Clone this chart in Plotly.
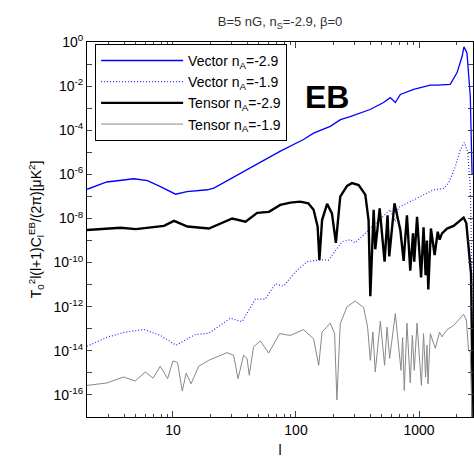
import plotly.graph_objects as go

# ---- data (l, value) ----
l_vec29 = [2, 2.9, 4.8, 6.2, 7.9, 10.5, 13, 19, 21.5, 40, 74, 115, 139, 190, 230, 276, 400, 515,
           584, 642, 705, 904, 1236, 1400, 1795, 2036, 2240, 2320, 2455, 2612, 2660, 2700]
v_vec29 = [2.1e-7, 4.5e-7, 6.3e-7, 5.2e-7, 2.8e-7, 1.26e-7, 1.66e-7, 2.0e-7, 2.4e-7, 1.6e-6, 1.1e-5,
           3.8e-5, 7.4e-5, 1.5e-4, 3.0e-4, 4.1e-4, 8.7e-4, 1.8e-3, 3.0e-3, 1.8e-3, 4.2e-3, 7.1e-3,
           1.1e-2, 1.1e-2, 1.2e-2, 4.0e-2, 0.22, 0.6, 0.32, 3.5e-3, 1.8e-5, 1e-6]

l_vec19 = [2, 2.9, 4.0, 5.8, 7.9, 10.6, 15.2, 19.5, 29.2, 36.4, 46.7, 56.3, 68, 79, 99, 123, 158,
           184, 237, 276, 303, 389, 485, 584, 642, 683, 904, 1314, 1585, 1742, 1972, 2166, 2335,
           2483, 2612, 2690, 2740]
v_vec19 = [1.6e-14, 4.1e-14, 6.8e-14, 9.3e-14, 5.0e-14, 1.8e-14, 5.5e-14, 6.2e-14, 3.0e-13, 2.1e-13,
           2.2e-12, 2.2e-12, 1.1e-11, 8.5e-12, 3.8e-11, 1.1e-10, 1.35e-10, 1.3e-10, 8.9e-10, 1.1e-9,
           7.9e-10, 3.0e-9, 1.0e-8, 2.5e-8, 7.2e-9, 3.2e-8, 6.9e-8, 2.0e-7, 2.3e-7, 4.0e-7, 2.2e-6,
           1.3e-5, 2.8e-5, 1.1e-5, 2.8e-7, 5e-11, 1e-18]

l_ten29 = [2, 3.75, 5, 8.45, 10.2, 13.1, 19.6, 30.3, 38.9, 48.4, 60.3, 74.5, 90, 108, 126, 139, 150,
           155, 163, 179, 196, 211, 229, 260, 285, 323, 366, 389, 402, 428, 441, 479, 525, 555, 573,
           632, 705, 750, 798, 849, 894, 915, 964, 1040, 1089, 1131, 1160, 1190, 1250, 1340, 1420,
           1470, 1538, 1690, 1911, 2306, 2426, 2532, 2650, 2700, 2740]
v_ten29 = [3.0e-9, 3.8e-9, 3.3e-9, 4.6e-9, 7.8e-9, 4.3e-9, 3.5e-9, 1.0e-8, 7.2e-9, 1.8e-8, 2.0e-8,
           4.1e-8, 5.2e-8, 5.8e-8, 4.9e-8, 2.5e-8, 4.3e-9, 1.3e-10, 8.5e-9, 4.6e-8, 1.7e-8, 7.9e-10,
           9.8e-8, 3.0e-7, 4.0e-7, 3.3e-7, 1.2e-7, 8.5e-9, 3.0e-12, 2.5e-8, 4.0e-10, 2.9e-8, 1.1e-10,
           1.4e-8, 1.9e-10, 4.9e-8, 3.0e-9, 1.2e-10, 1.4e-8, 4.3e-11, 2.1e-9, 1.1e-10, 1.2e-8,
           2.1e-11, 4.0e-9, 2.7e-11, 1.0e-9, 6.0e-12, 3.5e-9, 2.2e-10, 2.5e-9, 1.1e-9, 2.1e-9,
           3.5e-9, 4.6e-9, 1.1e-8, 6.0e-9, 5.2e-10, 3e-11, 1e-14, 1e-18]

l_ten19 = [2, 2.9, 3.96, 4.93, 5.95, 6.88, 7.89, 9.04, 10, 10.9, 11.9, 12.8, 14.0, 16.2, 19.5, 27.5,
           31.1, 33.8, 37.5, 40, 41.7, 45.2, 51.3, 59.9, 73.6, 90, 115, 139, 153, 163, 190, 206, 215,
           229, 260, 303, 355, 382, 402, 422, 441, 485, 525, 550, 577, 642, 714, 736, 759, 798, 849,
           883, 915, 964, 1046, 1089, 1131, 1161, 1183, 1236, 1357, 1470, 1538, 1690, 1911, 2306,
           2426, 2532, 2612, 2690, 2740]
v_ten19 = [2.7e-16, 3.5e-16, 6.5e-16, 4.3e-16, 1.1e-15, 5.8e-16, 2.0e-15, 5.5e-16, 3.5e-15, 2.9e-15,
           1.5e-16, 9.8e-16, 3.2e-16, 2.0e-15, 3.7e-15, 8.3e-15, 6.3e-15, 5.5e-16, 6.3e-15, 4.5e-15,
           7.8e-16, 1.5e-14, 2.8e-14, 7.9e-15, 6.0e-14, 5.0e-14, 9.1e-14, 3.5e-14, 2.2e-15, 7.1e-14,
           1.8e-13, 6.0e-14, 6.0e-17, 1.7e-13, 1.0e-12, 1.8e-12, 9.1e-13, 1.2e-13, 3.7e-15, 7.1e-14,
           1.1e-15, 2.2e-13, 2.2e-15, 1.2e-13, 4.5e-15, 4.9e-13, 1.3e-15, 4.0e-14, 1.6e-16, 1.8e-13,
           3.5e-16, 5.0e-14, 1.3e-15, 1.8e-13, 2.7e-16, 6.0e-14, 6.5e-16, 1.8e-14, 3.2e-16, 6.0e-14,
           1.3e-14, 7.1e-14, 4.3e-14, 9.1e-14, 1.4e-13, 4.5e-13, 2.5e-13, 1.0e-14, 8.9e-15, 4e-17, 3e-19]

names = ["Vector n<sub>A</sub>=-2.9", "Vector n<sub>A</sub>=-1.9",
         "Tensor n<sub>A</sub>=-2.9", "Tensor n<sub>A</sub>=-1.9"]

x_major = [10, 100, 1000]
x_major_text = ["10", "100", "1000"]
x_minor = [m * d for d in (1, 10, 100) for m in range(2, 10)] + [2000]
y_exps = list(range(0, -18, -1))
y_tickvals = [10.0 ** e for e in y_exps]
y_ticktext = [("10<sup>%d</sup>" % e) if e % 2 == 0 else "" for e in y_exps]

fig = go.Figure()
fig.add_trace(go.Scatter(x=l_vec29, y=v_vec29, mode="lines", name=names[0],
                         line=dict(color="#0000ff", width=1.3)))
fig.add_trace(go.Scatter(x=l_vec19, y=v_vec19, mode="lines", name=names[1],
                         line=dict(color="#2a2aff", width=1.2, dash="1px,2px")))
fig.add_trace(go.Scatter(x=l_ten29, y=v_ten29, mode="lines", name=names[2],
                         line=dict(color="black", width=2.4)))
fig.add_trace(go.Scatter(x=l_ten19, y=v_ten19, mode="lines", name=names[3],
                         line=dict(color="#888888", width=1)))

fig.update_layout(
    width=474, height=458,
    margin=dict(l=87, r=1, t=42, b=41),
    paper_bgcolor="white", plot_bgcolor="white",
    font=dict(family="Liberation Sans, Arial, sans-serif", size=14, color="black"),
    title=dict(text="B=5 nG, n<sub>S</sub>=-2.9, β=0", x=0.5, xref="paper", xanchor="center",
               y=0.953, yanchor="middle", font=dict(size=13, color="#333333")),
    legend=dict(x=0.021, y=0.995, xanchor="left", yanchor="top", bordercolor="black",
                borderwidth=1, bgcolor="white", font=dict(size=14), itemwidth=82,
                tracegroupgap=0),
    showlegend=True,
    annotations=[dict(text="<b>EB</b>", x=0.684, y=0.906, xref="paper", yref="paper",
                      showarrow=False, font=dict(size=32, color="black"))],
)
fig.update_xaxes(type="log", range=[0.301, 3.439], tickvals=x_major, ticktext=x_major_text,
                 ticks="inside", ticklen=6, showline=True, linecolor="black", linewidth=1,
                 mirror="ticks", showgrid=False, zeroline=False, tickfont=dict(size=14),
                 minor=dict(ticks="inside", ticklen=3, tickvals=x_minor, showgrid=False),
                 title=dict(text="l", font=dict(size=14), standoff=8))
fig.update_yaxes(type="log", range=[-17, 0], tickvals=y_tickvals, ticktext=y_ticktext,
                 ticks="inside", ticklen=5, showline=True, linecolor="black", linewidth=1,
                 mirror="ticks", showgrid=False, zeroline=False, tickfont=dict(size=14),
                 title=dict(text="T<sub>0</sub><sup>2</sup>l(l+1)C<sub>l</sub><sup>EB</sup>/(2π)[μK<sup>2</sup>]",
                            font=dict(size=14), standoff=8))

fig.write_html("out.html", config={"displayModeBar": False},
               post_script="document.body.style.margin='0';")
